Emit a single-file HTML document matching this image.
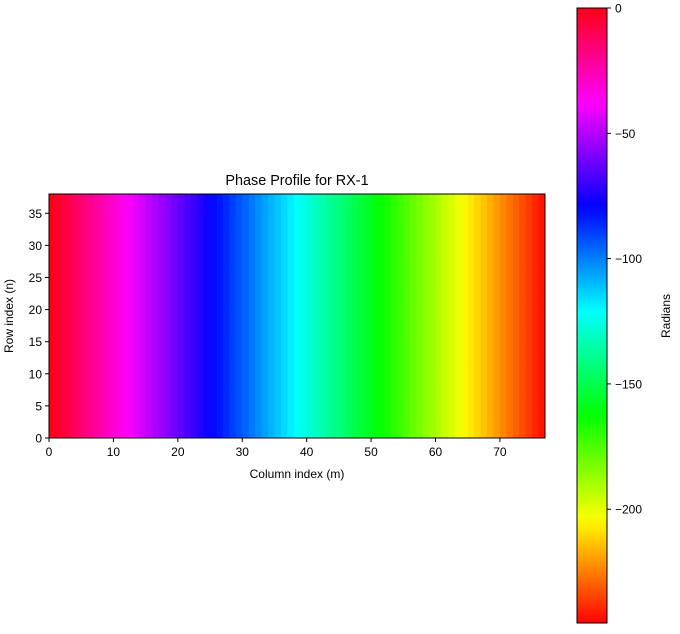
<!DOCTYPE html>
<html><head><meta charset="utf-8"><style>
body{margin:0;background:#fff;font-family:"Liberation Sans","DejaVu Sans",sans-serif;}
svg text{font-family:"Liberation Sans","DejaVu Sans",sans-serif;font-size:12px;fill:#000;}
</style></head><body>
<svg id="chart" width="680" height="629">
<g id="cells"></g>
<rect x="49" y="194" width="496" height="244" fill="none" stroke="#000" stroke-width="1"/>
<g id="axes"></g>
<text x="297" y="185" text-anchor="middle" style="font-size:14.4px">Phase Profile for RX-1</text>
<text x="297" y="478" text-anchor="middle">Column index (m)</text>
<text transform="translate(13,316) rotate(-90)" text-anchor="middle">Row index (n)</text>
<g id="cbar"></g>
<text transform="translate(670,316) rotate(-90)" text-anchor="middle">Radians</text>
</svg>
<script>
const phases = [0,-3.2,-6.4,-9.6,-12.8,-16.0,-19.1,-22.3,-25.5,-28.7,-31.9,-35.1,-38.3,-41.5,-44.7,-47.9,-51.0,-54.2,-57.4,-60.6,-63.8,-67.0,-70.2,-73.4,-76.6,-79.8,-82.9,-86.1,-89.3,-92.5,-95.7,-98.9,-102.1,-105.3,-108.5,-111.7,-114.8,-118.0,-121.2,-124.4,-127.6,-130.8,-134.0,-137.2,-140.4,-143.6,-146.7,-149.9,-153.1,-156.3,-159.5,-162.7,-165.9,-169.1,-172.3,-175.5,-178.6,-181.8,-185.0,-188.2,-191.4,-194.6,-197.8,-201.0,-204.2,-207.4,-210.5,-213.7,-216.9,-220.1,-223.3,-226.5,-229.7,-232.9,-236.1,-239.3,-242.4];
const rowCount = 38;
const xTicks = [0,10,20,30,40,50,60,70];
const yTicks = [0,5,10,15,20,25,30,35];
const cbTicks = [0,-50,-100,-150,-200];
const vmin = -245.4, vmax = 0;

const NS = "http://www.w3.org/2000/svg";
const X0 = 49, X1 = 545, Y0 = 438, Y1 = 194;
const nCols = phases.length;
const xs = v => X0 + v * (X1 - X0) / nCols;
const ys = v => Y0 - v * (Y0 - Y1) / rowCount;
const SR = [[0,1],[0.158730,1],[0.174603,0.96875],[0.333333,0.03125],[0.349206,0],[0.666667,0],[0.682540,0.03125],[0.841270,0.96875],[0.857143,1],[1,1]];
const SG = [[0,0],[0.158730,0.9375],[0.174603,1],[0.507937,1],[0.666667,0.0625],[0.682540,0],[1,0]];
const SB = [[0,0],[0.333333,0],[0.349206,0.0625],[0.507937,1],[0.841270,1],[0.857143,0.9375],[1,0.09375]];
function seg(s, t) { for (let i = 1; i < s.length; i++) { if (t <= s[i][0]) { const a = s[i-1], b = s[i]; return a[1] + (b[1]-a[1]) * (t-a[0]) / (b[0]-a[0]); } } return s[s.length-1][1]; }
const color = v => { const t = Math.max(0, Math.min(1, (v - vmin) / (vmax - vmin))); return `rgb(${Math.round(seg(SR,t)*255)},${Math.round(seg(SG,t)*255)},${Math.round(seg(SB,t)*255)})`; };
function mk(tag, attrs, parent) { const e = document.createElementNS(NS, tag); for (const k in attrs) e.setAttribute(k, attrs[k]); parent.appendChild(e); return e; }

const cells = document.getElementById('cells');
for (let r = 0; r < rowCount; r++) {
  for (let c = 0; c < nCols; c++) {
    const el = mk('rect', {x: xs(c), y: ys(r + 1), width: xs(c + 1) - xs(c) + 0.4, height: ys(r) - ys(r + 1) + 0.4, fill: color(phases[c])}, cells);
    
    
  }
}
const axes = document.getElementById('axes');
xTicks.forEach(v => {
  const x = xs(v);
  const l = mk('line', {x1: x, x2: x, y1: Y0, y2: Y0 + 4, stroke: '#000'}, axes);
  
  
  const t = mk('text', {x: x, y: Y0 + 18, 'text-anchor': 'middle'}, axes);
  t.textContent = v;
  
  
});
yTicks.forEach(v => {
  const y = ys(v);
  const l = mk('line', {x1: X0 - 4, x2: X0, y1: y, y2: y, stroke: '#000'}, axes);
  
  
  const t = mk('text', {x: X0 - 7, y: y + 4.5, 'text-anchor': 'end'}, axes);
  t.textContent = v;
  
  
});
const CB = document.getElementById('cbar');
const CX0 = 577, CX1 = 607, CT = 8, CBt = 623;
const cy = v => CBt - (v - vmin) / (vmax - vmin) * (CBt - CT);
for (let i = 0; i < 256; i++) {
  const v0 = vmin + (vmax - vmin) * i / 256, v1 = vmin + (vmax - vmin) * (i + 1) / 256;
  const s = mk('rect', {x: CX0, y: cy(v1), width: CX1 - CX0, height: cy(v0) - cy(v1) + 0.5, fill: color((v0 + v1) / 2)}, CB);
  
  
}
mk('rect', {x: CX0, y: CT, width: CX1 - CX0, height: CBt - CT, fill: 'none', stroke: '#000'}, CB);
cbTicks.forEach(v => {
  const y = cy(v);
  const l = mk('line', {x1: CX1, x2: CX1 + 4, y1: y, y2: y, stroke: '#000'}, CB);
  
  
  const t = mk('text', {x: CX1 + 8, y: y + 4.5}, CB);
  t.textContent = v === 0 ? '0' : '\u2212' + Math.abs(v);
  
  
});
</script>
</body></html>
